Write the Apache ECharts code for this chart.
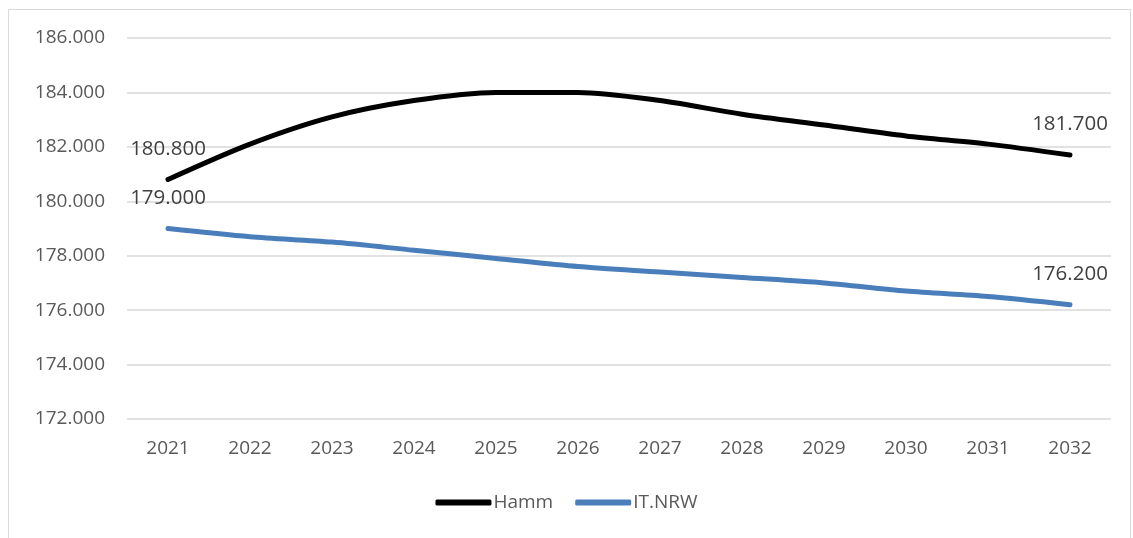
<!DOCTYPE html>
<html>
<head>
<meta charset="utf-8">
<script src="https://cdn.jsdelivr.net/npm/echarts@6/dist/echarts.min.js"></script>
<style>
html, body { margin: 0; padding: 0; background: #fff; }
#chart { width: 1133px; height: 538px; }
</style>
</head>
<body>
<div id="chart"></div>
<script>
var years = ['2021','2022','2023','2024','2025','2026','2027','2028','2029','2030','2031','2032'];
var hamm = [180800, 182100, 183100, 183700, 184000, 184000, 183700, 183200, 182800, 182400, 182100, 181700];
var itnrw = [179000, 178700, 178500, 178200, 177900, 177600, 177400, 177200, 177000, 176700, 176500, 176200];

// 180800 -> "180.800"
function fmt(v) {
    var s = String(Math.round(v));
    return s.replace(/\B(?=(\d{3})+(?!\d))/g, '.');
}

var textColor = '#595959';
var font = 'Open Sans';

function endLabel(p) {
    if (p.dataIndex == 0 || p.dataIndex == years.length - 1) return fmt(p.value);
    return '';
}

var myChart = echarts.init(document.getElementById('chart'));
option = {
    animation: false,
    textStyle: { fontFamily: font },
    graphic: [{
        type: 'rect',
        shape: { x: 8.5, y: 9.5, width: 1122, height: 540 },
        style: { fill: 'none', stroke: '#d9d9d9', lineWidth: 1 },
        silent: true
    }],
    grid: { left: 127, right: 22, top: 38, bottom: 119 },
    legend: {
        bottom: 21,
        left: 'center',
        icon: 'roundRect',
        itemWidth: 56,
        itemHeight: 6,
        itemGap: 22,
        textStyle: { color: textColor, fontSize: 19, fontFamily: font, padding: [0, 0, 0, -3] },
        data: ['Hamm', 'IT.NRW']
    },
    xAxis: {
        type: 'category',
        data: years,
        boundaryGap: true,
        axisLine: { show: false },
        axisTick: { show: false },
        axisLabel: { color: textColor, fontSize: 19, margin: 20, fontFamily: font }
    },
    yAxis: {
        type: 'value',
        min: 172000,
        max: 186000,
        interval: 2000,
        axisLine: { show: false },
        axisTick: { show: false },
        splitLine: { lineStyle: { color: '#d9d9d9', width: 1.5 } },
        axisLabel: {
            color: textColor, fontSize: 19, margin: 22, fontFamily: font,
            formatter: function (v) { return fmt(v); }
        }
    },
    series: [
        {
            name: 'Hamm',
            type: 'line',
            smooth: 0.3,
            data: hamm,
            symbol: 'circle',
            symbolSize: 0.1,
            itemStyle: { color: '#000000' },
            lineStyle: { width: 5, color: '#000000', cap: 'round' },
            label: {
                show: true, position: 'top', distance: 20,
                color: '#404040', fontSize: 20.5, fontFamily: font,
                formatter: endLabel
            },
            labelLayout: { hideOverlap: false }
        },
        {
            name: 'IT.NRW',
            type: 'line',
            smooth: 0.3,
            data: itnrw,
            symbol: 'circle',
            symbolSize: 0.1,
            itemStyle: { color: '#4a7ebb' },
            lineStyle: { width: 5, color: '#4a7ebb', cap: 'round' },
            label: {
                show: true, position: 'top', distance: 20,
                color: '#404040', fontSize: 20.5, fontFamily: font,
                formatter: endLabel
            }
        }
    ]
};
myChart.setOption(option);
</script>
</body>
</html>
